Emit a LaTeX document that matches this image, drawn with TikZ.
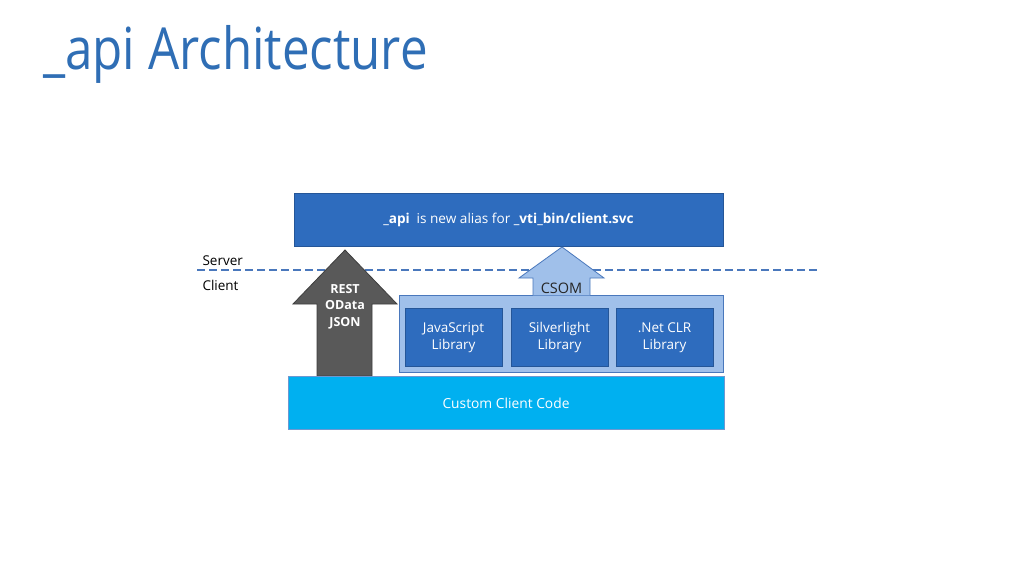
\documentclass[tikz,border=0pt]{standalone}
\usepackage{fontspec}
\setmainfont{Open Sans}
\newfontfamily\titlefont[FakeStretch=0.85]{Open Sans}
\definecolor{titleblue}{HTML}{2F6EB5}
\definecolor{boxblue}{HTML}{2E6CBE}
\definecolor{edgeblue}{HTML}{4A78BC}
\definecolor{paleblue}{HTML}{A0C0EA}
\definecolor{cyanbox}{HTML}{00B0F0}
\definecolor{arrowgray}{HTML}{595959}
\tikzset{
  darkbox/.style={fill=boxblue, draw=boxblue!80!black, line width=0.6pt, text=white, inner sep=0pt, align=center},
  libbox/.style={darkbox, minimum width=97pt, minimum height=58pt, font=\fontsize{13.5}{17.5}\selectfont},
  sidelabel/.style={anchor=west, font=\fontsize{13.5}{15}\selectfont}
}
\begin{document}
\begin{tikzpicture}[x=1pt, y=-1pt]
  \useasboundingbox[fill=white] (0,0) rectangle (1024,577);
  % title
  \node[anchor=base west, inner sep=0pt, text=titleblue, font=\titlefont\fontsize{58}{60}\selectfont] (title) at (43,70) {\_api Architecture};
  % server side
  \node[darkbox, minimum width=429pt, minimum height=53pt, font=\fontsize{13.6}{15}\selectfont] (alias) at (508.5,219.5)
    {\textbf{\_api}\enspace is new alias for \textbf{\_vti\_bin/client.svc}};
  % boundary
  \coordinate (lineL) at (197,270);
  \coordinate (lineR) at (820,270);
  \draw[edgeblue, line width=1.8pt, dash pattern=on 8pt off 4pt] (lineL) -- (lineR);
  \node[sidelabel] (server) at (199,261) {Server};
  \node[sidelabel] (client) at (199,285) {Client};
  % client side
  \node[fill=paleblue, draw=edgeblue, line width=0.8pt, minimum width=324pt, minimum height=77pt] (csomlib) at (561,333.5) {};
  \node[libbox] (jslib) at (453.5,337.5) {JavaScript\\Library};
  \node[libbox] (sllib) at (559.5,337.5) {Silverlight\\Library};
  \node[libbox] (netlib) at (664.5,337.5) {.Net CLR\\Library};
  % CSOM arrow
  \fill[paleblue] (533,295.4) -- (533,278) -- (519,278) -- (562,247) -- (604,278) -- (590,278) -- (590,295.4) -- cycle;
  \draw[edgeblue, line width=0.8pt, line join=miter] (533,295) -- (533,278) -- (519,278) -- (562,247) -- (604,278) -- (590,278) -- (590,295);
  \node[font=\fontsize{14.5}{15}\selectfont, text=black!85] (csom) at (561.5,288) {CSOM};
  % REST arrow
  \draw[fill=arrowgray, draw=arrowgray!70!black, line width=0.8pt] (317,376) -- (317,304) -- (293,304) -- (345,250) -- (397,304) -- (372,304) -- (372,376) -- cycle;
  \node[align=center, text=white, font=\bfseries\fontsize{12.5}{16.5}\selectfont] (rest) at (345,306.5) {REST\\OData\\JSON};
  \node[fill=cyanbox, draw=boxblue!70, line width=0.6pt, text=white, minimum width=436pt, minimum height=53pt, font=\fontsize{13.8}{15}\selectfont] (custom) at (506,403) {Custom Client Code};
\end{tikzpicture}
\end{document}
